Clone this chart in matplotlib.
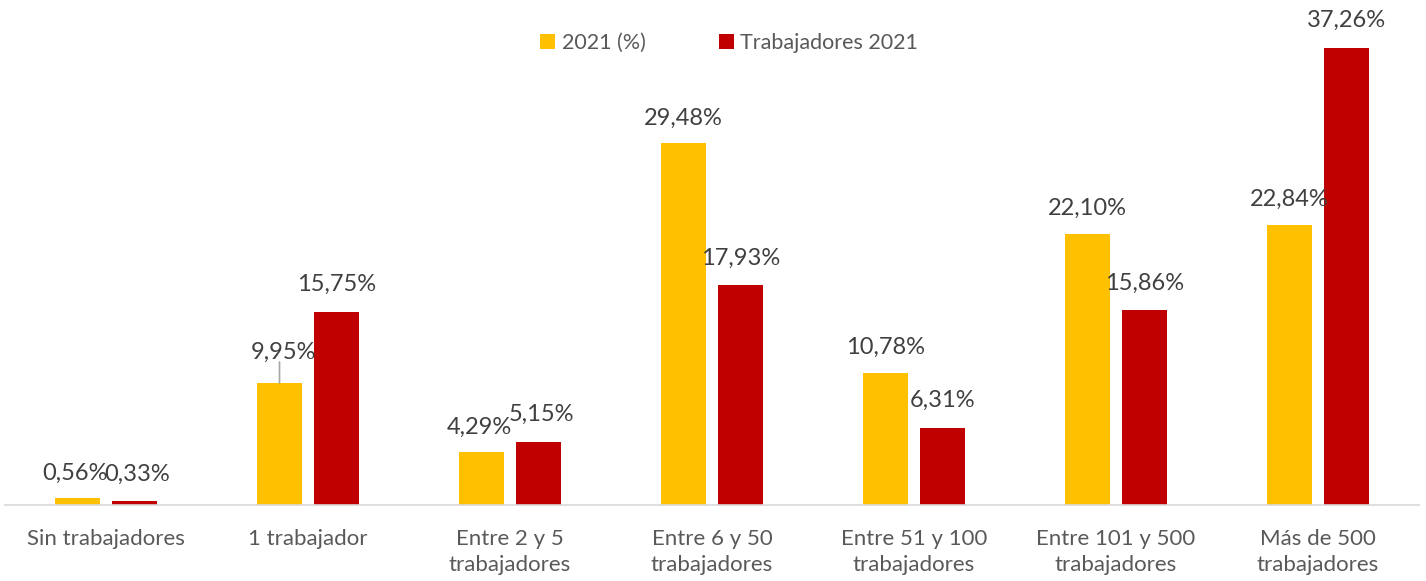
import matplotlib
matplotlib.use("Agg")
import matplotlib.pyplot as plt
import numpy as np
from matplotlib.patches import Patch

plt.rcParams['font.family'] = ['Lato', 'DejaVu Sans']

categories = ["Sin trabajadores", "1 trabajador", "Entre 2 y 5\ntrabajadores",
              "Entre 6 y 50\ntrabajadores", "Entre 51 y 100\ntrabajadores",
              "Entre 101 y 500\ntrabajadores", "Más de 500\ntrabajadores"]
series_names = ["2021 (%)", "Trabajadores 2021"]
pct_2021 = [0.56, 9.95, 4.29, 29.48, 10.78, 22.10, 22.84]
trab_2021 = [0.33, 15.75, 5.15, 17.93, 6.31, 15.86, 37.26]
colors = ["#FFC000", "#C00000"]

W, H = 1426, 581
fig = plt.figure(figsize=(W / 100, H / 100), dpi=100)
ax = fig.add_axes([5 / W, (H - 505) / H, (1419 - 5) / W, (505 - 30) / H])

x = np.arange(len(categories))
bw = 0.223
off = 0.141
ax.bar(x - off, pct_2021, bw, color=colors[0], zorder=2)
ax.bar(x + off, trab_2021, bw, color=colors[1], zorder=2)

ax.set_xlim(-0.5, len(categories) - 0.5)
ax.set_ylim(0, (505 - 30) / 12.27)

def fmt(v):
    return f"{v:.2f}%".replace(".", ",")

lab_kw = dict(ha='center', va='center', fontsize=17, color='#404040')
dx1 = [-3, 4, -2, 0, 0, 0, 0]
dx2 = [3, 0, 3, 0, 0, 0, 0]
for i, (v1, v2) in enumerate(zip(pct_2021, trab_2021)):
    dy1 = 31 if i == 1 else 25
    ax.annotate(fmt(v1), (x[i] - off, v1), xytext=(dx1[i], dy1),
                textcoords='offset pixels', **lab_kw)
    ax.annotate(fmt(v2), (x[i] + off, v2), xytext=(dx2[i], 27),
                textcoords='offset pixels', **lab_kw)
# leader line for 9,95%
ax.annotate("", (x[1] - off, pct_2021[1]), xytext=(0, 21), textcoords='offset pixels',
            arrowprops=dict(arrowstyle='-', color='#A6A6A6', lw=1.2, shrinkA=0, shrinkB=0))

for s in ['top', 'right', 'left']:
    ax.spines[s].set_visible(False)
ax.spines['bottom'].set_color('#D9D9D9')
ax.spines['bottom'].set_linewidth(1.2)
ax.set_yticks([])
ax.set_xticks(x)
ax.set_xticklabels(categories, fontsize=16, color='#595959', linespacing=1.35)
ax.tick_params(axis='x', length=0, pad=17.5)

handles = [Patch(facecolor=c) for c in colors]
fig.legend(handles, series_names, loc='center', bbox_to_anchor=(729 / W, 1 - 43 / H),
           ncol=2, frameon=False, fontsize=15.5, labelcolor='#595959',
           handlelength=0.7, handleheight=0.7, handletextpad=0.3, columnspacing=3.4)

fig.savefig("out.png", dpi=100)
